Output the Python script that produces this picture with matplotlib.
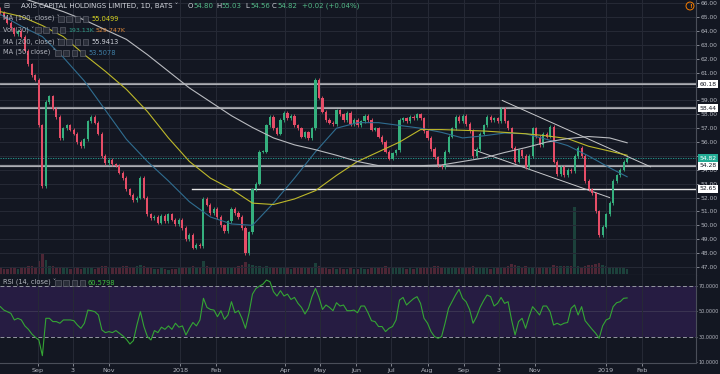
import matplotlib
matplotlib.use('Agg')
import matplotlib.pyplot as plt
import matplotlib.dates as mdates
import matplotlib.transforms as mtransforms
import numpy as np
import pandas as pd

BG = '#131722'
GRID = '#262a36'
TXT = '#b2b5be'
UP = '#35b07e'
DOWN = '#e64d67'

# one bar every 3 calendar days
first_day = '2017-07-31'
bar_step = '3D'
last_day = '2019-03-19'
first_open = 65.6
closes = [
    65.3, 65.0, 64.6, 64.2, 63.8, 64.0, 63.6, 62.6, 61.6, 60.8,
    60.5, 57.2, 52.8, 58.9, 59.3, 58.4, 57.8, 56.3, 57.0, 57.2,
    56.9, 56.6, 56.0, 55.7, 56.2, 57.5, 57.8, 57.4, 56.6, 55.0,
    54.5, 54.7, 54.4, 54.3, 53.8, 53.4, 52.6, 52.2, 51.8, 52.0,
    53.4, 52.0, 50.8, 50.5, 50.6, 50.2, 50.7, 50.3, 50.8, 50.4,
    50.1, 50.4, 49.8, 49.0, 49.3, 48.4, 48.6, 48.5, 51.9, 51.5,
    50.9, 51.2, 50.6, 50.0, 49.6, 50.3, 51.2, 50.9, 50.6, 49.8,
    48.0, 49.5, 52.6, 53.0, 55.3, 55.3, 57.2, 57.8, 57.0, 56.6,
    57.6, 58.1, 57.7, 57.9, 57.2, 57.0, 56.4, 56.7, 56.3, 57.0,
    60.5, 59.2, 58.2, 57.6, 57.4, 57.3, 58.3, 58.0, 57.6, 58.1,
    57.3, 57.6, 57.2, 57.5, 57.9, 57.6, 56.9, 57.0, 56.4, 56.0,
    55.3, 54.8, 55.2, 55.4, 57.6, 57.7, 57.5, 57.8, 57.7, 58.0,
    57.7, 56.8, 56.3, 55.5, 54.9, 54.3, 54.2, 55.3, 56.4, 57.0,
    57.8, 57.5, 57.9, 57.3, 56.8, 55.0, 55.5, 56.6, 57.2, 57.8,
    57.6, 57.7, 57.5, 58.4, 57.5, 57.0, 55.6, 54.6, 55.4, 55.0,
    54.2, 55.0, 57.0, 56.4, 55.8, 56.6, 56.4, 57.1, 54.6, 53.7,
    54.2, 53.6, 54.0, 53.9, 55.0, 55.6, 55.0, 53.2, 52.6, 52.3,
    51.0, 49.3, 49.9, 50.8, 51.6, 53.2, 53.6, 54.0, 54.6, 54.82,
]
volume_k = [
    620, 540, 580, 700, 650, 560, 720, 680, 900, 850,
    760, 1400, 2100, 1500, 900, 820, 700, 760, 640, 600,
    580, 620, 700, 560, 640, 720, 600, 580, 760, 900,
    820, 700, 640, 680, 760, 820, 900, 780, 700, 880,
    940, 860, 800, 620, 560, 520, 600, 540, 480, 520,
    560, 600, 640, 760, 700, 820, 760, 680, 1400, 900,
    700, 620, 640, 700, 760, 680, 620, 700, 840, 1000,
    1300, 1100, 1000, 820, 900, 700, 840, 760, 640, 700,
    620, 600, 660, 580, 620, 700, 640, 600, 680, 760,
    1200, 900, 760, 620, 580, 600, 560, 620, 540, 580,
    600, 560, 520, 600, 580, 560, 620, 640, 700, 760,
    820, 700, 640, 760, 800, 620, 580, 600, 560, 620,
    640, 720, 700, 780, 860, 900, 760, 700, 680, 640,
    600, 620, 640, 760, 700, 900, 760, 640, 600, 620,
    580, 600, 640, 700, 760, 880, 1100, 960, 820, 760,
    900, 780, 720, 760, 700, 740, 800, 720, 1000, 880,
    820, 900, 860, 840, 7200, 900, 760, 880, 1000, 920,
    1100, 1200, 960, 880, 800, 760, 700, 720, 640, 530,
]
rsi = [
    53.7, 51.0, 49.7, 48.4, 43.2, 44.5, 43.2, 38.5, 35.8, 32.1,
    29.5, 27.4, 15.0, 44.5, 44.5, 41.9, 41.9, 40.6, 43.2, 43.2,
    43.2, 42.6, 39.2, 36.6, 40.6, 51.0, 50.5, 49.7, 47.1, 35.3,
    33.2, 34.0, 33.2, 34.8, 32.7, 30.6, 27.9, 24.2, 26.9, 39.2,
    49.7, 38.0, 30.0, 27.4, 34.8, 33.2, 37.5, 35.8, 38.5, 35.8,
    40.6, 37.5, 38.5, 31.3, 36.6, 41.2, 38.5, 43.2, 60.3, 53.1,
    51.5, 51.0, 45.8, 50.5, 43.7, 47.1, 57.6, 48.9, 50.5, 44.5,
    36.6, 48.4, 63.6, 68.1, 69.9, 71.5, 74.7, 73.4, 65.5, 62.1,
    66.3, 62.1, 63.6, 59.4, 61.0, 56.3, 53.1, 47.9, 52.4, 61.6,
    68.1, 61.0, 51.5, 55.0, 53.1, 50.5, 56.8, 54.2, 55.0, 50.5,
    50.5, 51.0, 48.9, 54.2, 54.2, 48.9, 42.6, 41.9, 38.0, 38.0,
    34.0, 36.6, 38.0, 43.2, 58.9, 61.0, 55.0, 57.6, 60.0, 61.6,
    56.3, 44.5, 40.6, 34.0, 30.0, 28.7, 30.0, 40.6, 52.4, 57.6,
    62.9, 67.4, 60.3, 57.6, 51.5, 40.6, 45.8, 53.1, 58.4, 62.9,
    61.6, 54.2, 56.3, 61.0, 56.3, 57.6, 43.2, 31.3, 41.9, 44.5,
    36.6, 45.8, 53.7, 50.5, 47.1, 54.2, 54.2, 49.7, 39.2, 40.6,
    39.2, 40.6, 41.2, 52.4, 55.0, 47.1, 53.7, 42.6, 39.2, 35.8,
    32.7, 28.7, 38.5, 43.2, 44.5, 53.7, 56.8, 57.6, 60.3, 60.58,
]

# moving averages sampled every 6th bar plus the last bar
ma_step = 6
ma50 = [65.2, 64.35, 63.6, 62.1, 60.4, 58.3, 56.2, 54.6, 53.2, 51.7, 50.6,
        50.1, 50.0, 51.6, 53.4, 55.3, 57.0, 57.4, 57.4, 57.2, 57.0, 56.7,
        56.3, 56.45, 56.65, 56.6, 56.2, 55.75, 55.0, 54.15, 53.5]
ma100 = [65.4, 65.05, 64.4, 63.6, 62.3, 61.1, 59.8, 58.2, 56.3, 54.6, 53.4,
         52.6, 51.6, 51.5, 51.9, 52.5, 53.6, 54.6, 55.3, 56.0, 56.9, 56.9,
         56.85, 56.8, 56.7, 56.6, 56.45, 56.25, 55.7, 55.35, 55.05]
ma200 = [66.8, 66.4, 65.9, 65.4, 64.8, 64.1, 63.4, 62.3, 61.1, 59.9, 58.9,
         57.9, 57.05, 56.3, 55.8, 55.45, 55.05, 54.6, 54.3, 54.3, 54.3, 54.35,
         54.6, 54.85, 55.25, 55.6, 56.0, 56.25, 56.4, 56.3, 55.95]

levels = [60.18, 58.44, 54.28]
short_level = 52.65
short_level_start = '2018-01-11'
last_close = 54.82
upper_trend_dates = ['2018-10-04', '2019-02-08']
upper_trend_prices = [59.0, 54.22]
lower_trend_dates = ['2018-09-09', '2019-01-04']
lower_trend_prices = [55.46, 52.0]

price_ticks = list(range(47, 67))
hidden_price_ticks = [55, 60]   # covered by the price labels in the original
tick_dates = ['2017-09-01', '2017-10-01', '2017-11-01', '2018-01-01', '2018-02-01',
              '2018-04-01', '2018-05-01', '2018-06-01', '2018-07-01', '2018-08-01',
              '2018-09-01', '2018-10-01', '2018-11-01', '2019-01-01', '2019-02-01']
tick_labels = ['Sep', '3', 'Nov', '2018', 'Feb', 'Apr', 'May', 'Jun', 'Jul', 'Aug',
               'Sep', '3', 'Nov', '2019', 'Feb']


def dn(d):
    return mdates.date2num(pd.Timestamp(d))


dates = pd.date_range(first_day, periods=len(closes), freq=bar_step)
x = mdates.date2num(dates)
c = np.array(closes)
o = np.array([first_open] + closes[:-1])
colors = np.where(c >= o, UP, DOWN)
ma_idx = list(range(0, len(closes), ma_step)) + [len(closes) - 1]
ma_x = x[ma_idx]
xt = [dn(d) for d in tick_dates]

W, H = 720, 374
fig = plt.figure(figsize=(7.2, 3.74), dpi=100, facecolor=BG)


def fx(px):
    return px / W


def fy(py):
    return 1 - py / H


pane_w = fx(696)
ax_vol = fig.add_axes([0, fy(274), pane_w, 67 / H], zorder=0)
ax = fig.add_axes([0, fy(275), pane_w, 275 / H], zorder=1)
ax_rsi = fig.add_axes([0, fy(363), pane_w, 88 / H], zorder=1)
ax_vol.set_facecolor(BG)
ax.patch.set_alpha(0)

xlim = (dn(first_day) - 0.3, dn(last_day))

# volume
ax_vol.bar(x, volume_k, width=2.0, color=colors, alpha=0.28, lw=0)
ax_vol.set_xlim(xlim)
ax_vol.set_ylim(0, max(volume_k))
ax_vol.axis('off')

# price grid
for v in price_ticks:
    ax.axhline(v, color=GRID, lw=0.7, zorder=0)
for t in xt:
    ax.axvline(t, color=GRID, lw=0.7, zorder=0)

# drawings
for lv in levels:
    ax.axhline(lv, color='#8f9198', lw=1.6, zorder=1)
    ax.axhline(lv, color='#c4c6cc', lw=0.4, zorder=1)
ax.plot([dn(short_level_start), xlim[1]], [short_level, short_level], color='#e6e6e6', lw=1.0, zorder=1)
ax.axhline(last_close, color='#26a69a', lw=0.6, ls=(0, (1.5, 1.5)), zorder=1)
ax.plot([dn(d) for d in upper_trend_dates], upper_trend_prices, color='#c8c9cc', lw=0.7, zorder=2)
ax.plot([dn(d) for d in lower_trend_dates], lower_trend_prices, color='#c8c9cc', lw=0.7, zorder=2)

# candles
ax.vlines(x, np.minimum(o, c) - 0.12, np.maximum(o, c) + 0.12, colors=colors, lw=0.6, zorder=3)
ax.bar(x, np.maximum(np.abs(c - o), 0.07), bottom=np.minimum(o, c), width=1.8,
       color=colors, lw=0, zorder=3)

# moving averages
ax.plot(ma_x, ma50, color='#2f6d90', lw=0.8, zorder=4)
ax.plot(ma_x, ma100, color='#bdb82a', lw=0.8, zorder=4)
ax.plot(ma_x, ma200, color='#b9bbc0', lw=0.8, zorder=4)

ax.set_xlim(xlim)
ax.set_ylim(46.42, 66.24)
ax.set_yticks(price_ticks)
ax.set_yticklabels(['' if v in hidden_price_ticks else f'{v:.2f}' for v in price_ticks])
ax.yaxis.tick_right()
ax.tick_params(axis='y', colors=TXT, labelsize=4.3, length=2, pad=1.2, width=0.5)
ax.tick_params(axis='x', bottom=False, labelbottom=False)
for s in ['left', 'top']:
    ax.spines[s].set_visible(False)
for s in ['right', 'bottom']:
    ax.spines[s].set_color('#4a4e59')
    ax.spines[s].set_linewidth(0.8)

# price labels on the scale
tr = mtransforms.blended_transform_factory(ax.transAxes, ax.transData)
for lv in levels + [short_level]:
    ax.text(1.005, lv, f'{lv:.2f}', transform=tr, fontsize=4.3, color='#131722',
            va='center', ha='left', zorder=10, clip_on=False,
            bbox=dict(boxstyle='square,pad=0.25', fc='white', ec='none'))
ax.text(1.005, last_close, f'{last_close:.2f}', transform=tr, fontsize=4.3, color='white',
        va='center', ha='left', zorder=10, clip_on=False,
        bbox=dict(boxstyle='square,pad=0.25', fc='#22ab94', ec='none'))

# RSI pane
ax_rsi.set_facecolor(BG)
ax_rsi.axhspan(30, 70, color='#261c42', lw=0, zorder=0)
ax_rsi.axhline(50, color='#3b3452', lw=0.7, zorder=1)
for t in xt:
    ax_rsi.axvline(t, color=GRID, lw=0.7, zorder=1)
for lv in (30, 70):
    ax_rsi.axhline(lv, color='#9598a1', lw=0.7, ls=(0, (4, 2.5)), zorder=2)
ax_rsi.plot(x, rsi, color='#34a534', lw=0.8, zorder=3)
ax_rsi.set_xlim(xlim)
ax_rsi.set_ylim(9.2, 78.7)
ax_rsi.set_yticks([10, 30, 50, 70])
ax_rsi.set_yticklabels([f'{v:.4f}' for v in (10, 30, 50, 70)])
ax_rsi.yaxis.tick_right()
ax_rsi.tick_params(axis='y', colors=TXT, labelsize=3.5, length=1, pad=0.8, width=0.5)
ax_rsi.set_xticks(xt)
ax_rsi.set_xticklabels(tick_labels)
ax_rsi.tick_params(axis='x', colors=TXT, labelsize=4.6, length=2, pad=1.5, width=0.5)
for s in ['left', 'top']:
    ax_rsi.spines[s].set_visible(False)
for s in ['right', 'bottom']:
    ax_rsi.spines[s].set_color('#4a4e59')
    ax_rsi.spines[s].set_linewidth(0.8)


# header and legends
def label(px, py, s, color=TXT, size=4.8):
    fig.text(fx(px), fy(py), s, color=color, fontsize=size, ha='left', va='center', zorder=20)


def icons(px, py):
    for k in range(4):
        fig.patches.append(plt.Rectangle((fx(px + 8.3 * k), fy(py + 2.5)), fx(5.5), 5.5 / H,
                                         transform=fig.transFigure, fc='#2a2e39', ec='#6a6d78',
                                         lw=0.4, zorder=20))


GREEN = '#53b987'
label(3, 6, '⊟', TXT, 5.2)
label(21, 6, 'AXIS CAPITAL HOLDINGS LIMITED, 1D, BATS ˅', '#d1d4dc', 5.0)
for px, letter, val in [(188, 'O', '54.80'), (216, 'H', '55.03'), (245, 'L', '54.56'), (272, 'C', '54.82')]:
    label(px, 6, letter, '#d1d4dc', 5.0)
    label(px + 5, 6, val, GREEN, 5.0)
label(302, 6, '+0.02 (+0.04%)', GREEN, 5.0)

label(3, 19, 'MA (100, close) ˅')
icons(58, 19)
label(91, 19, '55.0499', '#d6d31e')
label(3, 30, 'Vol (20) ˅')
icons(35, 30)
label(68, 30, '193.13K', '#2e9e88', 4.5)
label(96, 30, '529.747K', '#e0893a', 4.5)
label(3, 42, 'MA (200, close) ˅')
icons(58, 42)
label(91, 42, '55.9413', '#d1d4dc')
label(3, 53, 'MA (50, close) ˅')
icons(55, 53)
label(88, 53, '53.5078', '#3f80a8')
label(3, 283, 'RSI (14, close) ˅')
icons(55, 283)
label(88, 283, '60.5798', '#3fc23f')

fig.text(fx(690), fy(6), '!', color='#f57c00', fontsize=4.2, ha='center', va='center',
         fontweight='bold', bbox=dict(boxstyle='circle,pad=0.25', fc='none', ec='#f57c00', lw=0.7))

fig.savefig('out.png', dpi=100, facecolor=BG)
